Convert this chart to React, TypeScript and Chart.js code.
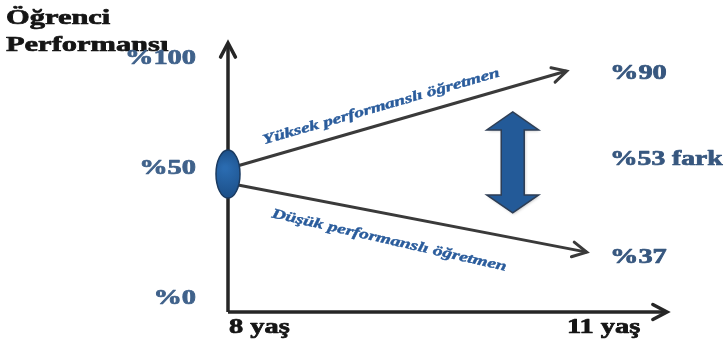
import React, { useEffect, useRef } from "react";
import { Chart, registerables } from "chart.js";

Chart.register(...registerables);

// ---- data ----
const xTickLabels = ["8 yaş", "11 yaş"];
const xTickValues = [8, 11];
const yTickLabels = ["%100", "%50", "%0"];
const startValue = 50; // ellipse at age 8
const highX = [8.08, 10.7];
const highY = [53, 87.3];
const lowX = [8.08, 10.86];
const lowY = [46, 21.7];
const endLabels = ["%90", "%53 fark", "%37"];
const highLabel = "Yüksek performanslı öğretmen";
const lowLabel = "Düşük performanslı öğretmen";
const titleLines = ["Öğrenci", "Performansı"];
const gapX = 10.27;
const gapTop = 72.5;
const gapBottom = 35.9;

const toPts = (xs: number[], ys: number[]) => xs.map((x, i) => ({ x, y: ys[i] }));

const SERIF = "'Liberation Serif', 'Times New Roman', serif";
const STRETCH = 1.42;

function stretchedText(
  ctx: CanvasRenderingContext2D,
  text: string,
  x: number,
  y: number,
  opts: { font: string; color: string; align?: CanvasTextAlign; angle?: number; sx?: number; weight?: number }
) {
  ctx.save();
  ctx.translate(x, y);
  if (opts.angle) ctx.rotate(opts.angle);
  ctx.scale(opts.sx ?? STRETCH, 1);
  ctx.font = opts.font;
  ctx.fillStyle = opts.color;
  ctx.strokeStyle = opts.color;
  ctx.lineWidth = opts.weight ?? 0.7;
  ctx.lineJoin = "round";
  ctx.textAlign = opts.align ?? "left";
  ctx.textBaseline = "middle";
  ctx.fillText(text, 0, 0);
  ctx.strokeText(text, 0, 0);
  ctx.restore();
}

function chevron(ctx: CanvasRenderingContext2D, tipX: number, tipY: number, ang: number, len: number, width: number, color: string) {
  const spread = Math.PI / 6.5;
  ctx.save();
  ctx.strokeStyle = color;
  ctx.lineWidth = width;
  ctx.lineCap = "round";
  ctx.lineJoin = "miter";
  ctx.beginPath();
  ctx.moveTo(tipX - len * Math.cos(ang - spread), tipY - len * Math.sin(ang - spread));
  ctx.lineTo(tipX, tipY);
  ctx.lineTo(tipX - len * Math.cos(ang + spread), tipY - len * Math.sin(ang + spread));
  ctx.stroke();
  ctx.restore();
}

const diagramPlugin = {
  id: "diagram",
  afterDatasetsDraw(chart: any) {
    const ctx: CanvasRenderingContext2D = chart.ctx;
    const xs = chart.scales.x;
    const ys = chart.scales.y;

    // arrowheads on each dataset's last segment
    chart.data.datasets.forEach((ds: any, i: number) => {
      const meta = chart.getDatasetMeta(i);
      const pts = meta.data;
      if (pts.length < 2) return;
      const a = pts[pts.length - 2];
      const b = pts[pts.length - 1];
      const ang = Math.atan2(b.y - a.y, b.x - a.x);
      chevron(ctx, b.x, b.y, ang, 16, ds.borderWidth, ds.borderColor);
    });

    // start ellipse
    const ex = xs.getPixelForValue(xTickValues[0]);
    const ey = ys.getPixelForValue(startValue);
    ctx.save();
    const g = ctx.createRadialGradient(ex - 3, ey - 6, 2, ex, ey, 24);
    g.addColorStop(0, "#2a6bb0");
    g.addColorStop(1, "#1c4f88");
    ctx.fillStyle = g;
    ctx.strokeStyle = "#1a3a60";
    ctx.lineWidth = 1.5;
    ctx.beginPath();
    ctx.ellipse(ex, ey, 12, 24, 0, 0, Math.PI * 2);
    ctx.fill();
    ctx.stroke();
    ctx.restore();

    // double-headed gap arrow
    const cx = xs.getPixelForValue(gapX);
    const top = ys.getPixelForValue(gapTop);
    const bot = ys.getPixelForValue(gapBottom);
    const hw = 26, sw = 11.5, hh = 18;
    ctx.save();
    ctx.shadowColor = "rgba(0,0,0,0.25)";
    ctx.shadowBlur = 3;
    ctx.shadowOffsetX = 1;
    ctx.shadowOffsetY = 1;
    ctx.beginPath();
    ctx.moveTo(cx, top);
    ctx.lineTo(cx + hw, top + hh);
    ctx.lineTo(cx + sw, top + hh);
    ctx.lineTo(cx + sw, bot - hh);
    ctx.lineTo(cx + hw, bot - hh);
    ctx.lineTo(cx, bot);
    ctx.lineTo(cx - hw, bot - hh);
    ctx.lineTo(cx - sw, bot - hh);
    ctx.lineTo(cx - sw, top + hh);
    ctx.lineTo(cx - hw, top + hh);
    ctx.closePath();
    ctx.fillStyle = "#235a98";
    ctx.fill();
    ctx.shadowColor = "transparent";
    ctx.strokeStyle = "#2e3e55";
    ctx.lineWidth = 1.5;
    ctx.stroke();
    ctx.restore();

    // title
    const bold20 = `bold 20px ${SERIF}`;
    const bold21 = `bold 21px ${SERIF}`;
    stretchedText(ctx, titleLines[0], 6, 19, { font: bold21, color: "#151515", sx: 1.45 });
    stretchedText(ctx, titleLines[1], 6, 46, { font: bold21, color: "#151515", sx: 1.45 });

    // y tick labels (right-aligned next to axis)
    const tickColor = "#40628b";
    const yLabelPos = [59, 169, 299];
    yTickLabels.forEach((t, i) => {
      stretchedText(ctx, t, ex - 32, yLabelPos[i], { font: bold20, color: tickColor, align: "right" });
    });

    // x tick labels
    stretchedText(ctx, xTickLabels[0], xs.getPixelForValue(xTickValues[0]) + 1, 328, { font: bold20, color: "#151515" });
    stretchedText(ctx, xTickLabels[1], xs.getPixelForValue(xTickValues[1]) + 36, 328, { font: bold20, color: "#151515", align: "right" });

    // end labels
    const endColor = "#37577f";
    stretchedText(ctx, endLabels[0], 610, 74, { font: bold20, color: endColor });
    stretchedText(ctx, endLabels[1], 610, 160, { font: bold20, color: endColor, sx: 1.38 });
    stretchedText(ctx, endLabels[2], 610, 258, { font: bold20, color: endColor });

    // line labels
    const lineLabel = (dsIndex: number, text: string, offset: number, angAdj: number) => {
      const pts = chart.getDatasetMeta(dsIndex).data;
      const a = pts[0], b = pts[pts.length - 1];
      const ang = Math.atan2(b.y - a.y, b.x - a.x) + angAdj;
      const t = 0.45;
      const mx = a.x + (b.x - a.x) * t;
      const my = a.y + (b.y - a.y) * t;
      const nx = -Math.sin(ang), ny = Math.cos(ang);
      stretchedText(ctx, text, mx + nx * offset, my + ny * offset, {
        font: `italic bold 14px ${SERIF}`,
        color: "#2a5c9c",
        align: "center",
        angle: ang,
        sx: 1.38,
        weight: 0.4,
      });
    };
    lineLabel(0, highLabel, -17, 0);
    lineLabel(1, lowLabel, 26, 0.035);
  },
};

export default function App() {
  const ref = useRef<HTMLCanvasElement>(null);
  useEffect(() => {
    if (!ref.current) return;
    const arrowColor = "#3a3a3a";
    const chart = new Chart(ref.current, {
      type: "line",
      data: {
        datasets: [
          { label: highLabel, data: toPts(highX, highY), borderColor: arrowColor, borderWidth: 3, pointRadius: 0, fill: false },
          { label: lowLabel, data: toPts(lowX, lowY), borderColor: arrowColor, borderWidth: 3, pointRadius: 0, fill: false },
          { label: "y", data: [{ x: 8, y: 0 }, { x: 8, y: 97.5 }], borderColor: "#262626", borderWidth: 3.5, pointRadius: 0, fill: false },
          { label: "x", data: [{ x: 8, y: 0 }, { x: 11.5, y: 0 }], borderColor: "#262626", borderWidth: 3.5, pointRadius: 0, fill: false },
        ],
      },
      options: {
        animation: false,
        responsive: true,
        maintainAspectRatio: false,
        clip: false as any,
        layout: { padding: { left: 228, right: 58, top: 36, bottom: 35 } },
        plugins: { legend: { display: false }, tooltip: { enabled: false } },
        scales: {
          x: { type: "linear", min: 8, max: 11.5, display: false },
          y: { type: "linear", min: 0, max: 100, display: false },
        },
      },
      plugins: [diagramPlugin],
    });
    return () => chart.destroy();
  }, []);
  return (
    <div style={{ position: "fixed", left: 0, top: 0, width: 725, height: 347, background: "#fff" }}>
      <canvas ref={ref} />
    </div>
  );
}
